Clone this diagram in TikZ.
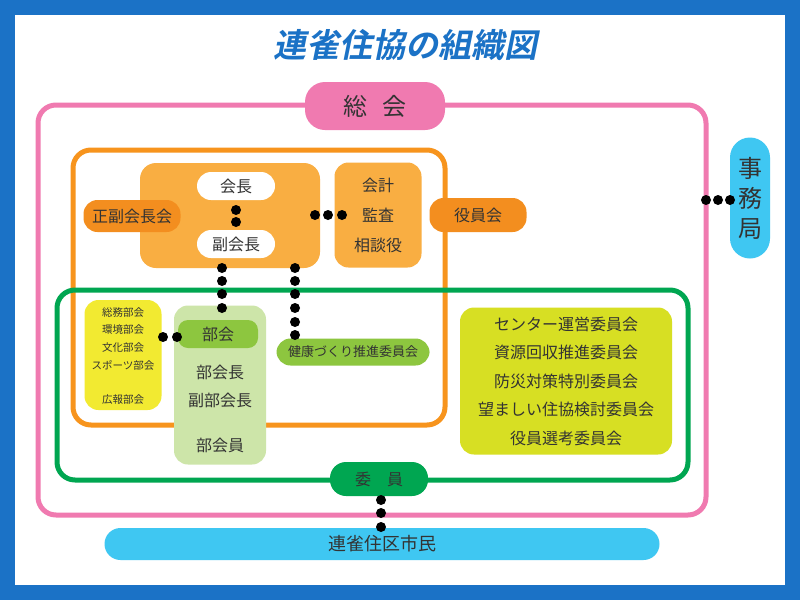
\documentclass[tikz,border=0pt]{standalone}
\usepackage{fontspec}
\setmainfont{Noto Sans CJK JP}
\newfontfamily\titlefont[FakeSlant=0.2]{Noto Sans CJK JP Bold}
\usetikzlibrary{calc, positioning}
\definecolor{frameblue}{HTML}{1B72C6}
\definecolor{pinkline}{HTML}{F07AB0}
\definecolor{orangeline}{HTML}{F7941D}
\definecolor{orangefill}{HTML}{F9AE42}
\definecolor{orangedark}{HTML}{F38E1F}
\definecolor{greenline}{HTML}{00A651}
\definecolor{greenmid}{HTML}{8DC63F}
\definecolor{greenlight}{HTML}{CDE5A9}
\definecolor{yellowbox}{HTML}{F2EA31}
\definecolor{limebox}{HTML}{D7DF23}
\definecolor{skyblue}{HTML}{3FC7F2}
\definecolor{txt}{HTML}{333333}

\begin{document}
\begin{tikzpicture}[
    x=1pt, y=-1pt,
    panel/.style={draw, line width=5pt, rounded corners=18pt},
    blob/.style={rounded corners=14pt, inner sep=0pt},
    pill/.style={rounded corners=14pt, inner sep=0pt, text=txt},
    dot/.style={fill=black}
]

% frame and background
\fill[frameblue] (0,0) rectangle (800,600);
\fill[white] (15,15) rectangle (785,585);
\useasboundingbox (0,0) rectangle (800,600);

% title
\node[text=frameblue, font=\fontsize{33}{35}\titlefont] (title) at (405,45) {連雀住協の組織図};

% outer panels
\draw[panel, pinkline] (38,105) rectangle (706,515);
\draw[panel, orangeline] (73,150) rectangle (445,425);
\draw[panel, greenline] (57,290) rectangle (688,480);

% officers
\fill[orangefill, rounded corners=16pt] (140,163) rectangle (320,268);
\node[pill, fill=white, minimum width=78pt, minimum height=28pt, font=\fontsize{16}{18}\selectfont] (chair) at (236,186) {会長};
\node[pill, fill=white, minimum width=78pt, minimum height=28pt, font=\fontsize{16}{18}\selectfont] (vice) at (236,244) {副会長};
\node[pill, fill=orangedark, minimum width=97pt, minimum height=32pt, font=\fontsize{16}{18}\selectfont] (board) at (132,216) {正副会長会};
\node[blob, fill=orangefill, minimum width=87pt, minimum height=105pt, text=txt, align=center,
      font=\fontsize{16}{30}\selectfont] (audit) at (378,215) {会計\\監査\\相談役};
\node[pill, fill=orangedark, minimum width=97pt, minimum height=34pt, font=\fontsize{16}{18}\selectfont] (exec) at (478,215) {役員会};

% pink general meeting and office
\node[pill, fill=pinkline, rounded corners=20pt, minimum width=140pt, minimum height=48pt, font=\fontsize{24}{26}\selectfont] (general) at (375,106) {総\hspace{0.6em}会};
\node[pill, fill=skyblue, rounded corners=20pt, minimum width=40pt, minimum height=121pt, align=center, font=\fontsize{24}{30}\selectfont] (office) at (750,198) {事\\務\\局};

% sections
\node[blob, fill=yellowbox, minimum width=77pt, minimum height=110pt] (subs) at (123,355) {};
\foreach \t/\y in {総務部会/313, 環境部会/330, 文化部会/348, スポーツ部会/365, 広報部会/400}
  \node[text=txt, font=\fontsize{10.5}{12}\selectfont] at (123,\y) {\t};
\node[blob, fill=greenlight, minimum width=92pt, minimum height=159pt] (sect) at (220,385) {};
\node[pill, fill=greenmid, rounded corners=10pt, minimum width=80pt, minimum height=28pt, font=\fontsize{16}{18}\selectfont] (bukai) at (218,334) {部会};
\node[text=txt, align=center, font=\fontsize{16}{28}\selectfont] (heads) at (220,386) {部会長\\副部会長};
\node[text=txt, font=\fontsize{16}{18}\selectfont] (members) at (220,445) {部会員};
\node[pill, fill=greenmid, minimum width=153pt, minimum height=27pt, font=\fontsize{13}{15}\selectfont] (health) at (353,352) {健康づくり推進委員会};

% committees
\node[blob, fill=limebox, minimum width=212pt, minimum height=147pt, text=txt, align=center,
      font=\fontsize{16}{28.5}\selectfont] (comm) at (566,381) {センター運営委員会\\資源回収推進委員会\\防災対策特別委員会\\望ましい住協検討委員会\\役員選考委員会};
\node[pill, fill=greenline, rounded corners=16pt, minimum width=98pt, minimum height=34pt, font=\fontsize{16}{18}\selectfont] (iin) at (379,479) {委\hspace{1em}員};

% citizens
\node[pill, fill=skyblue, rounded corners=16pt, minimum width=555pt, minimum height=32pt, font=\fontsize{18}{20}\selectfont] (citizens) at (382,544) {連雀住区市民};

% dotted links
\foreach \y in {210,222} \fill[dot] (236,\y) circle (5pt);
\foreach \x in {315,328,342} \fill[dot] (\x,215) circle (5pt);
\foreach \y in {268,281,294,308} \fill[dot] (222,\y) circle (5pt);
\foreach \y in {268,281,294,308,322,335} \fill[dot] (295,\y) circle (5pt);
\foreach \x in {163,177} \fill[dot] (\x,337) circle (5pt);
\foreach \y in {500,513,527} \fill[dot] (381,\y) circle (5pt);
\foreach \x in {706,718,730} \fill[dot] (\x,200) circle (5pt);

\end{tikzpicture}
\end{document}
